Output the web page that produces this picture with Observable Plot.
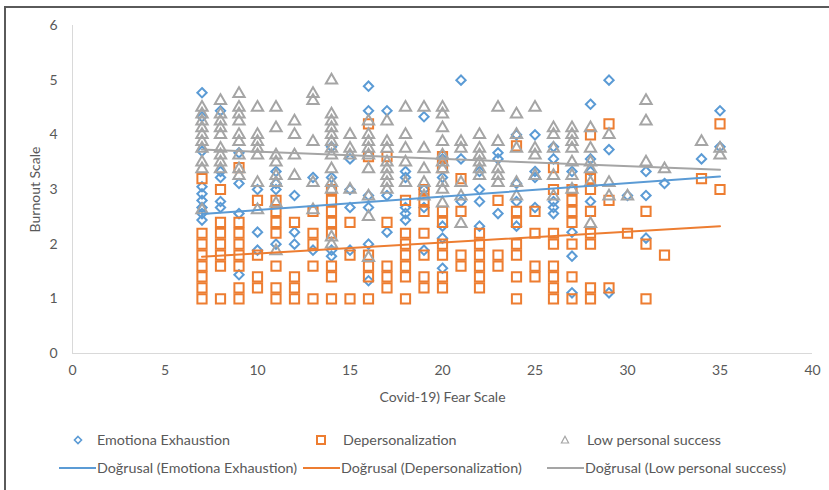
<!DOCTYPE html>
<html>
<head>
<meta charset="utf-8">
<script src="https://cdn.jsdelivr.net/npm/d3@7"></script>
<script src="https://cdn.jsdelivr.net/npm/@observablehq/plot@0.6"></script>
<style>
  html, body { margin: 0; padding: 0; background: #fff; }
  #wrap { position: relative; width: 829px; height: 490px; overflow: hidden; font-family: Lato, "Open Sans", sans-serif; color: #595959; }
  #frame { position: absolute; left: 4px; top: 6px; width: 840px; height: 500px; border-left: 2px solid #5a5a5a; border-top: 2px solid #5a5a5a; pointer-events: none; }
  #chart { position: absolute; left: 0; top: 0; }
  .lg { position: absolute; font-size: 14.3px; white-space: nowrap; line-height: 16px; }
  .lg svg { position: absolute; }
</style>
</head>
<body>
<div id="wrap">
  <div id="chart"></div>
  <div id="legend"></div>
  <div id="frame"></div>
</div>
<script>
// ---- data ----
const fearTicks = [0, 5, 10, 15, 20, 25, 30, 35, 40];
const burnoutTicks = [0, 1, 2, 3, 4, 5, 6];
const seriesNames = ["Emotiona Exhaustion", "Depersonalization", "Low personal success"];
const trendNames = ["Doğrusal (Emotiona Exhaustion)", "Doğrusal (Depersonalization)", "Doğrusal (Low personal success)"];

// [fear score, [burnout values]]
const emotionalExhaustion = [
  [7, [4.77, 4.33, 3.7, 3.05, 2.92, 2.8, 2.67, 2.56, 2.44]],
  [8, [4.44, 3.33, 3.22, 2.78, 2.67]],
  [9, [3.67, 3.11, 2.56, 1.44]],
  [10, [3.0, 2.22, 1.89]],
  [11, [3.33, 3.11, 3.0, 2.0]],
  [12, [2.89, 2.22, 2.0]],
  [13, [3.22, 1.89]],
  [14, [3.78, 3.22, 1.89, 1.78]],
  [15, [3.56, 3.0, 2.67, 1.89]],
  [16, [4.89, 4.44, 2.89, 2.67, 2.0, 1.33]],
  [17, [4.44, 2.89, 2.22]],
  [18, [3.33, 3.22, 2.67, 2.56, 2.44]],
  [19, [4.33, 3.0, 2.67, 1.89]],
  [20, [3.56, 3.22, 2.33, 2.11, 1.56]],
  [21, [5.0, 3.56, 2.78]],
  [22, [3.33, 3.0, 2.78, 2.33]],
  [23, [3.67, 3.56, 2.56]],
  [24, [4.0, 3.11, 2.78, 2.33]],
  [25, [4.0, 3.33, 3.22, 2.67]],
  [26, [3.78, 3.56, 2.78, 2.67, 2.56]],
  [27, [3.33, 2.22, 1.78, 1.11]],
  [28, [4.56, 3.56, 3.33, 2.78]],
  [29, [5.0, 3.73, 1.11]],
  [30, [2.89]],
  [31, [3.33, 2.89, 2.11]],
  [32, [3.11]],
  [34, [3.56]],
  [35, [4.44, 3.78]]
];
const depersonalization = [
  [7, [3.2, 2.2, 2.0, 1.8, 1.6, 1.4, 1.2, 1.0]],
  [8, [3.0, 2.4, 2.2, 2.0, 1.8, 1.6, 1.0]],
  [9, [3.4, 2.4, 2.2, 2.0, 1.8, 1.6, 1.2, 1.0]],
  [10, [2.8, 1.8, 1.4, 1.2]],
  [11, [2.8, 2.6, 2.4, 2.2, 1.6, 1.2, 1.0]],
  [12, [2.4, 1.4, 1.2, 1.0]],
  [13, [2.6, 2.2, 2.0, 1.6, 1.0]],
  [14, [3.0, 2.8, 2.6, 2.4, 2.2, 1.6, 1.4, 1.0]],
  [15, [2.4, 1.8, 1.0]],
  [16, [4.2, 3.6, 1.8, 1.6, 1.4, 1.0]],
  [17, [3.6, 2.4, 1.6, 1.4, 1.2]],
  [18, [2.8, 2.2, 2.0, 1.8, 1.6, 1.4, 1.0]],
  [19, [3.0, 2.8, 2.6, 2.2, 1.8, 1.4, 1.2]],
  [20, [3.6, 3.4, 2.6, 2.4, 2.0, 1.8, 1.4, 1.2]],
  [21, [3.2, 2.6, 1.8, 1.6]],
  [22, [2.2, 2.0, 1.8, 1.6, 1.4, 1.2]],
  [23, [2.8, 1.8, 1.6]],
  [24, [3.8, 2.6, 2.4, 2.0, 1.8, 1.4, 1.0]],
  [25, [2.6, 2.2, 1.6, 1.4]],
  [26, [3.4, 3.0, 2.2, 2.0, 1.6, 1.4, 1.2, 1.0]],
  [27, [3.0, 2.8, 2.6, 2.4, 2.0, 1.4, 1.0]],
  [28, [4.0, 3.2, 3.0, 2.6, 2.2, 2.0, 1.2, 1.0]],
  [29, [4.2, 2.8, 1.2]],
  [30, [2.2]],
  [31, [2.6, 2.0, 1.0]],
  [32, [1.8]],
  [34, [3.2]],
  [35, [4.2, 3.0]]
];
const lowPersonalSuccess = [
  [7, [4.5, 4.375, 4.25, 4.125, 4.0, 3.875, 3.75, 3.5, 3.375, 2.625]],
  [8, [4.625, 4.375, 4.25, 4.125, 4.0, 3.75, 3.625, 3.5, 3.375]],
  [9, [4.75, 4.5, 4.375, 4.25, 4.0, 3.875, 3.625, 3.375, 3.25]],
  [10, [4.5, 4.0, 3.875, 3.75, 3.625, 3.125, 2.625]],
  [11, [4.5, 4.125, 3.625, 3.5, 3.25, 3.125, 2.75, 1.875]],
  [12, [4.25, 4.0, 3.625, 3.25]],
  [13, [4.75, 4.625, 3.875, 3.125, 2.625]],
  [14, [5.0, 4.375, 4.25, 4.125, 4.0, 3.875, 3.75, 3.625, 3.375, 3.125, 3.0, 2.125, 2.0]],
  [15, [4.0, 3.75, 3.625, 3.0]],
  [16, [4.25, 4.0, 3.875, 3.75, 3.625, 3.375, 2.875, 2.5, 1.75]],
  [17, [4.25, 3.875, 3.75, 3.5, 3.375, 3.25, 3.125, 3.0]],
  [18, [4.5, 4.0, 3.75, 3.5, 3.125]],
  [19, [4.5, 3.75, 3.375, 3.125, 2.875]],
  [20, [4.5, 4.375, 4.125, 3.875, 3.625, 3.5, 3.375, 3.125, 3.0, 2.75]],
  [21, [3.875, 3.75, 3.125, 2.875, 2.375]],
  [22, [4.0, 3.75, 3.625, 3.5, 3.375, 3.25]],
  [23, [4.5, 3.875, 3.375, 3.25, 3.125]],
  [24, [4.375, 4.0, 3.75, 3.125, 2.875]],
  [25, [4.5, 3.75, 3.625, 3.25]],
  [26, [4.125, 4.0, 3.75, 3.25, 2.875]],
  [27, [4.125, 4.0, 3.875, 3.75, 3.5, 3.25, 3.0]],
  [28, [4.125, 3.75, 3.5, 3.375, 3.125, 2.375]],
  [29, [4.0, 3.125, 2.875]],
  [30, [2.875]],
  [31, [4.625, 4.25, 3.5]],
  [32, [3.375]],
  [34, [3.875]],
  [35, [3.75, 3.625]]
];
// linear trend lines: endpoints
const trendX = [7, 35];
const trendEE = [2.55, 3.24];
const trendDP = [1.77, 2.33];
const trendLPS = [3.73, 3.36];

const colors = ["#5B9BD5", "#ED7D31", "#A5A5A5"];

// ---- build tables ----
const flat = (series) => series.flatMap(([x, ys]) => ys.map(y => ({x, y})));
const ee = flat(emotionalExhaustion);
const dp = flat(depersonalization);
const lps = flat(lowPersonalSuccess);
const line = (ys) => trendX.map((x, i) => ({x, y: ys[i]}));

const chart = Plot.plot({
  width: 829,
  height: 414,
  marginLeft: 72,
  marginRight: 17,
  marginTop: 25,
  marginBottom: 61,
  style: {fontFamily: "Lato, 'Open Sans', sans-serif", fontSize: "14px", color: "#595959", background: "transparent"},
  x: {domain: [0, 40]},
  y: {domain: [0, 6]},
  marks: [
    Plot.ruleY([0], {stroke: "#d9d9d9", strokeWidth: 1}),
    Plot.ruleX([0], {stroke: "#d9d9d9", strokeWidth: 1}),
    Plot.axisX({ticks: fearTicks, tickFormat: d3.format("d"), tickSize: 0, tickPadding: 12, label: "Covid-19) Fear Scale", labelAnchor: "center", labelArrow: "none", labelOffset: 48}),
    Plot.axisY({ticks: burnoutTicks, tickFormat: d3.format("d"), tickSize: 0, tickPadding: 15, label: "Burnout Scale", labelAnchor: "center", labelArrow: "none", labelOffset: 42}),
    Plot.dot(ee, {x: "x", y: "y", symbol: "diamond2", r: 4.2, stroke: colors[0], strokeWidth: 2, fill: "none"}),
    Plot.dot(dp, {x: "x", y: "y", symbol: "square", r: 5.2, stroke: colors[1], strokeWidth: 2, fill: "none"}),
    Plot.dot(lps, {x: "x", y: "y", symbol: "triangle", r: 4.2, stroke: colors[2], strokeWidth: 2, fill: "none"}),
    Plot.line(line(trendEE), {x: "x", y: "y", stroke: colors[0], strokeWidth: 2}),
    Plot.line(line(trendDP), {x: "x", y: "y", stroke: colors[1], strokeWidth: 2}),
    Plot.line(line(trendLPS), {x: "x", y: "y", stroke: colors[2], strokeWidth: 2})
  ]
});
document.getElementById("chart").appendChild(chart);

// ---- legend ----
const legend = document.getElementById("legend");
const markerSvg = {
  diamond: (c) => `<svg width="12" height="12" viewBox="-6 -6 12 12"><path d="M0,-3.5L3.5,0L0,3.5L-3.5,0Z" fill="none" stroke="${c}" stroke-width="1.6"/></svg>`,
  square: (c) => `<svg width="12" height="12" viewBox="-6 -6 12 12"><rect x="-4" y="-4" width="8" height="8" fill="none" stroke="${c}" stroke-width="2"/></svg>`,
  triangle: (c) => `<svg width="12" height="12" viewBox="-6 -6 12 12"><path d="M0,-3.8L3.6,3L-3.6,3Z" fill="none" stroke="${c}" stroke-width="1.2"/></svg>`,
  line: (c) => `<svg width="38" height="12" viewBox="0 0 38 12"><line x1="0" y1="6" x2="37" y2="6" stroke="${c}" stroke-width="2"/></svg>`
};
const row1 = [
  {m: "diamond", mx: 78, tx: 97},
  {m: "square", mx: 321, tx: 343},
  {m: "triangle", mx: 565, tx: 587}
];
const row2 = [
  {lx: 59, tx: 97},
  {lx: 303, tx: 341},
  {lx: 547, tx: 585}
];
row1.forEach((d, i) => {
  const mk = document.createElement("div");
  mk.className = "lg";
  mk.style.left = (d.mx - 6) + "px";
  mk.style.top = (440 - 6) + "px";
  mk.innerHTML = markerSvg[d.m](colors[i]);
  legend.appendChild(mk);
  const t = document.createElement("div");
  t.className = "lg";
  t.style.left = d.tx + "px";
  t.style.top = (440 - 8) + "px";
  t.textContent = seriesNames[i];
  legend.appendChild(t);
});
row2.forEach((d, i) => {
  const mk = document.createElement("div");
  mk.className = "lg";
  mk.style.left = d.lx + "px";
  mk.style.top = (468 - 6) + "px";
  mk.innerHTML = markerSvg.line(colors[i]);
  legend.appendChild(mk);
  const t = document.createElement("div");
  t.className = "lg";
  t.style.left = d.tx + "px";
  t.style.top = (468 - 8) + "px";
  t.textContent = trendNames[i];
  legend.appendChild(t);
});
</script>
</body>
</html>
